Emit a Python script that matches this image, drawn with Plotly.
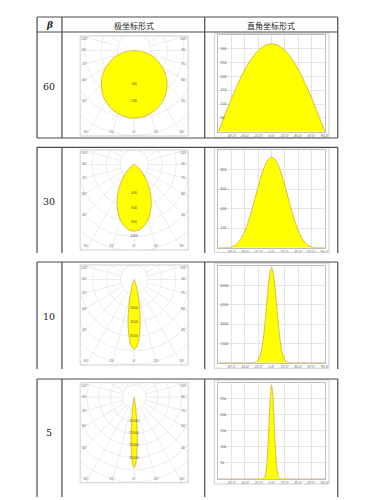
import numpy as np
import plotly.graph_objects as go

W, H = 373, 500
PAGE_OFF = 8  # default body margin of the page

# ---------------- data ----------------
header_labels = ["β", "极坐标形式", "直角坐标形式"]
beta_labels = ["60", "30", "10", "5"]

angles_b60 = [-90, -80, -70, -60, -50, -40, -30, -20, -10, 0, 10, 20, 30, 40, 50, 60, 70, 80, 90]
intensity_b60 = [0, 55, 109, 159, 205, 244, 276, 299, 313, 318, 313, 299, 276, 244, 205, 159, 109, 55, 0]

angles_b30 = [-90, -85, -80, -75, -70, -65, -60, -55, -50, -45, -40, -35, -30, -25, -20, -15, -10, -5, 0,
              5, 10, 15, 20, 25, 30, 35, 40, 45, 50, 55, 60, 65, 70, 75, 80, 85, 90]
intensity_b30 = [0, 0, 0, 1, 5, 15, 33, 64, 110, 174, 256, 354, 463, 576, 686, 784, 860, 909, 926,
                 909, 860, 784, 686, 576, 463, 354, 256, 174, 110, 64, 33, 15, 5, 1, 0, 0, 0]

angles_b10 = [-90, -40, -37.5, -35, -32.5, -30, -27.5, -25, -22.5, -20, -17.5, -15, -12.5, -10, -7.5, -5, -2.5, 0,
              2.5, 5, 7.5, 10, 12.5, 15, 17.5, 20, 22.5, 25, 27.5, 30, 32.5, 35, 37.5, 40, 90]
intensity_b10 = [0, 0, 0, 1, 3, 11, 32, 86, 204, 440, 861, 1533, 2486, 3684, 4993, 6200, 7058, 7369,
                 7058, 6200, 4993, 3684, 2486, 1533, 861, 440, 204, 86, 32, 11, 3, 1, 0, 0, 0]

angles_b5 = [-90, -20, -19, -18, -17, -16, -15, -14, -13, -12, -11, -10, -9, -8, -7, -6, -5, -4, -3, -2, -1, 0,
             1, 2, 3, 4, 5, 6, 7, 8, 9, 10, 11, 12, 13, 14, 15, 16, 17, 18, 19, 20, 90]
intensity_b5 = [0, 0, 1, 3, 9, 22, 53, 121, 259, 523, 998, 1798, 3057, 4915, 7465, 10717, 14543, 18679, 22682, 26055, 28314, 29109,
                28314, 26055, 22682, 18679, 14543, 10717, 7465, 4915, 3057, 1798, 998, 523, 259, 121, 53, 22, 9, 3, 1, 0, 0]

series_angles = [angles_b60, angles_b30, angles_b10, angles_b5]
series_values = [intensity_b60, intensity_b30, intensity_b10, intensity_b5]

# polar ring steps and labelled rings
ring_steps = [80, 200, 1500, 5000]
ring_label_idx = [[2, 3], [2, 3, 4, 5], [2, 3, 4], [2, 3, 4, 5]]
polar_angle_side = [105, 90, 75, 60, 45]
polar_angle_bottom = [30, 15, 0]

# cartesian axes
cart_ymax = [350, 1000, 7500, 30000]
cart_dtick = [50, 200, 1500, 5000]
cart_xticks = [-90, -67.5, -45, -22.5, 0, 22.5, 45, 67.5, 90]
cart_xticktext = ["-90.0°", "-67.5°", "-45.0°", "-22.5°", "0.0°", "22.5°", "45.0°", "67.5°", "90.0°"]

# ---------------- layout geometry (px, in the page) ----------------
ring_px = [17, 14.4, 14.2, 12.1]
pol_left, pol_right = 77, 188
pol_tops = [36, 150, 265, 382.7]
pol_h = 100
pol_off = 14.5
cart_left, cart_right = 219, 328.5
cart_tops = [35, 150, 266, 382.7]
cart_bots = [131.7, 247.7, 362.7, 479]
cart_frames = [(33.3, 137.3), (147.7, 252.3), (263.3, 368.3), (380, 484)]
row_centers = [86.7, 201, 316, 432]

tbl_x = [32.7, 58.3, 205, 341.7]
tbl_segments = [(17, 138), (147.3, 253), (262, 369), (379, 497)]
tbl_hlines = [17, 32, 138, 147.3, 262, 379]

YELLOW = "#FFFF00"
EDGE = "#c9a227"
GRID = "#e4e4e4"
LINE = "#4a4a4a"


def X(px):
    return (px - PAGE_OFF) / W


def Y(py):
    return 1 - (py - PAGE_OFF) / H


fig = go.Figure()
layout = dict(width=W, height=H, margin=dict(l=0, r=0, t=0, b=0),
              paper_bgcolor="white", plot_bgcolor="white", showlegend=False)
shapes = []
annotations = []

# ---------------- polar panels ----------------
for i in range(4):
    k = i + 1
    xa = "x" if k == 1 else f"x{k}"
    ya = "y" if k == 1 else f"y{k}"
    s = ring_px[i] / ring_steps[i]  # px per unit
    half_w = (pol_right - pol_left) / 2
    top = pol_tops[i]
    bot = top + pol_h
    layout["xaxis" if k == 1 else f"xaxis{k}"] = dict(
        domain=[X(pol_left), X(pol_right)], range=[-half_w / s, half_w / s],
        visible=False, anchor=ya, fixedrange=True)
    layout["yaxis" if k == 1 else f"yaxis{k}"] = dict(
        domain=[Y(bot), Y(top)], range=[-(pol_h - pol_off) / s, pol_off / s],
        visible=False, anchor=xa, fixedrange=True)

    # rings
    phi = np.linspace(0, 2 * np.pi, 241)
    rx, ry = [], []
    nr = int(np.ceil(115 / ring_px[i]))
    for r in range(1, nr + 1):
        rad = r * ring_steps[i]
        rx += list(rad * np.cos(phi)) + [None]
        ry += list(rad * np.sin(phi)) + [None]
    # rays
    r0 = ring_steps[i]
    r1 = 200 / s
    for a in range(0, 360, 15):
        t = np.deg2rad(a)
        rx += [r0 * np.sin(t), r1 * np.sin(t), None]
        ry += [-r0 * np.cos(t), -r1 * np.cos(t), None]
    fig.add_trace(go.Scatter(x=rx, y=ry, mode="lines", line=dict(color=GRID, width=0.7),
                             hoverinfo="skip", xaxis=xa, yaxis=ya))

    # lobe
    th = np.deg2rad(np.array(series_angles[i], dtype=float))
    iv = np.array(series_values[i], dtype=float)
    fig.add_trace(go.Scatter(x=iv * np.sin(th), y=-iv * np.cos(th), mode="lines",
                             line=dict(color=EDGE, width=0.7, shape="spline", smoothing=0.8),
                             fill="toself", fillcolor=YELLOW, hoverinfo="skip",
                             xaxis=xa, yaxis=ya))

    # ring labels
    vals = [j * ring_steps[i] for j in ring_label_idx[i]]
    fig.add_trace(go.Scatter(x=[0] * len(vals), y=[-v for v in vals], mode="text",
                             text=[str(v) for v in vals],
                             textfont=dict(size=3.5, color="#555555", family="Liberation Sans"),
                             hoverinfo="skip", xaxis=xa, yaxis=ya))

    # angle labels
    lx, ly, lt = [], [], []
    inset = half_w - 4.5
    for a in polar_angle_side:
        t = np.deg2rad(a)
        yy = -inset * np.cos(t) / np.sin(t)
        yy = min(yy, pol_off - 3.5)
        for sgn in (-1, 1):
            lx.append(sgn * inset / s)
            ly.append(yy / s)
            lt.append(f"{a}°")
    ybot = -(pol_h - pol_off)
    for a in polar_angle_bottom:
        t = np.deg2rad(a)
        xx = -ybot * np.tan(t)
        sides = (-1, 1) if a != 0 else (1,)
        for sgn in sides:
            lx.append(sgn * xx / s)
            ly.append((ybot + 3.5) / s)
            lt.append(f"{a}°")
    fig.add_trace(go.Scatter(x=lx, y=ly, mode="text", text=lt,
                             textfont=dict(size=3.3, color="#666666", family="Liberation Sans"),
                             hoverinfo="skip", xaxis=xa, yaxis=ya))

    shapes.append(dict(type="rect", xref="paper", yref="paper",
                       x0=X(pol_left), x1=X(pol_right), y0=Y(bot), y1=Y(top),
                       line=dict(color="#cfcfcf", width=1), fillcolor="rgba(0,0,0,0)"))

# ---------------- cartesian panels ----------------
for i in range(4):
    k = i + 5
    xa, ya = f"x{k}", f"y{k}"
    layout[f"xaxis{k}"] = dict(
        domain=[X(cart_left), X(cart_right)], range=[-90, 90], anchor=ya,
        tickvals=cart_xticks, ticktext=cart_xticktext, showgrid=True, gridcolor=GRID,
        gridwidth=0.7, zeroline=False, showline=True, linecolor="#bdbdbd", linewidth=0.8,
        mirror=True, ticks="", tickfont=dict(size=3.5, color="#555555", family="Liberation Sans"),
        fixedrange=True)
    layout[f"yaxis{k}"] = dict(
        domain=[Y(cart_bots[i]), Y(cart_tops[i])], range=[0, cart_ymax[i]], anchor=xa,
        dtick=cart_dtick[i], showgrid=True, gridcolor=GRID, gridwidth=0.7, zeroline=False,
        showline=True, linecolor="#bdbdbd", linewidth=0.8, mirror=True, ticks="",
        ticklabelposition="inside", showticklabels=True,
        tickfont=dict(size=3.5, color="#555555", family="Liberation Sans"), fixedrange=True)
    fig.add_trace(go.Scatter(x=series_angles[i], y=series_values[i], mode="lines",
                             line=dict(color=EDGE, width=0.7, shape="spline", smoothing=0.8),
                             fill="tozeroy", fillcolor=YELLOW, hoverinfo="skip",
                             xaxis=xa, yaxis=ya))
    f0, f1 = cart_frames[i]
    shapes.append(dict(type="rect", xref="paper", yref="paper",
                       x0=X(215), x1=X(332.7), y0=Y(f1), y1=Y(f0),
                       line=dict(color="#cfcfcf", width=1), fillcolor="rgba(0,0,0,0)"))

# ---------------- table lines ----------------
for y0, y1 in tbl_segments:
    for x in tbl_x:
        shapes.append(dict(type="line", xref="paper", yref="paper", x0=X(x), x1=X(x),
                           y0=Y(y0), y1=Y(y1), line=dict(color=LINE, width=1.2)))
for y in tbl_hlines:
    shapes.append(dict(type="line", xref="paper", yref="paper", x0=X(tbl_x[0]), x1=X(tbl_x[-1]),
                       y0=Y(y), y1=Y(y), line=dict(color=LINE, width=1.2)))


# ---------------- text ----------------
def label(text, xp, yp, size, family):
    annotations.append(dict(text=text, x=X(xp), y=Y(yp), xref="paper", yref="paper",
                            xanchor="center", yanchor="middle", showarrow=False,
                            font=dict(size=size, color="#222222", family=family)))


label("<b><i>" + header_labels[0] + "</i></b>", 45.5, 25, 9, "DejaVu Serif")
label(header_labels[1], 132, 25, 8, "Noto Sans CJK SC")
label(header_labels[2], 273, 25, 8, "Noto Sans CJK SC")
for lab, yc in zip(beta_labels, row_centers):
    label(lab, 45.5, yc, 9.5, "DejaVu Serif")

layout["shapes"] = shapes
layout["annotations"] = annotations
fig.update_layout(**layout)
fig.write_html("out.html")
